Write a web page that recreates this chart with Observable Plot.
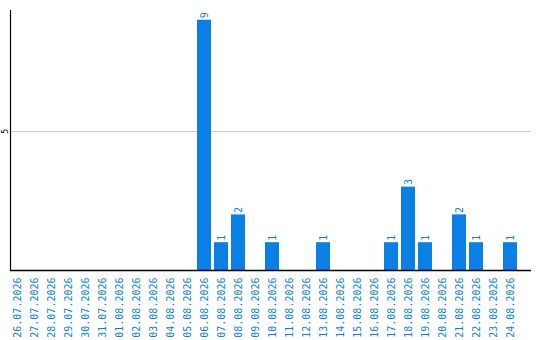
<!DOCTYPE html>
<html>
<head>
<meta charset="utf-8">
<script src="https://cdn.jsdelivr.net/npm/d3@7"></script>
<script src="https://cdn.jsdelivr.net/npm/@observablehq/plot@0.6"></script>
<style>
  html, body { margin: 0; padding: 0; background: #fff; }
  #chart svg { display: block; }
</style>
</head>
<body>
<div id="chart"></div>
<script>
// Daily counts, 26.07.2026 – 24.08.2026
const dates = [
  "26.07.2026", "27.07.2026", "28.07.2026", "29.07.2026", "30.07.2026",
  "31.07.2026", "01.08.2026", "02.08.2026", "03.08.2026", "04.08.2026",
  "05.08.2026", "06.08.2026", "07.08.2026", "08.08.2026", "09.08.2026",
  "10.08.2026", "11.08.2026", "12.08.2026", "13.08.2026", "14.08.2026",
  "15.08.2026", "16.08.2026", "17.08.2026", "18.08.2026", "19.08.2026",
  "20.08.2026", "21.08.2026", "22.08.2026", "23.08.2026", "24.08.2026"
];
const counts = [
  0, 0, 0, 0, 0,
  0, 0, 0, 0, 0,
  0, 9, 1, 2, 0,
  1, 0, 0, 1, 0,
  0, 0, 1, 3, 1,
  0, 2, 1, 0, 1
];
const yTicks = [5];

const blue = "#0a7fe6";
const rows = dates.map((date, i) => ({date, count: counts[i]}));

const chart = Plot.plot({
  width: 540,
  height: 340,
  marginTop: 10,
  marginLeft: 10,
  marginRight: 9,
  marginBottom: 70,
  style: {fontFamily: "DejaVu Sans Mono, monospace", background: "#fff"},
  x: {domain: dates, range: [8.5, 518.5], paddingInner: 3 / 17, paddingOuter: 3 / 34, axis: null},
  y: {domain: [0, 9.35], axis: null},
  marks: [
    Plot.ruleY(yTicks, {stroke: "#cccccc", strokeWidth: 1}),
    Plot.barY(rows, {x: "date", y: "count", fill: blue}),
    Plot.ruleY([0], {stroke: "#000", strokeWidth: 1.6}),
    Plot.frame({anchor: "left", stroke: "#000", strokeWidth: 1.2}),
    Plot.text(yTicks, {y: d => d, frameAnchor: "left", dx: -5, rotate: -90, textAnchor: "middle", fontSize: 8, fill: "#000"}),
    Plot.text(rows.filter(d => d.count > 0), {
      x: "date", y: "count", text: d => String(d.count),
      rotate: -90, textAnchor: "start", lineAnchor: "middle", dy: -2, fontSize: 10, fill: blue
    }),
    Plot.text(dates, {
      x: d => d, frameAnchor: "bottom", dy: 7, rotate: -90,
      textAnchor: "end", lineAnchor: "middle", fontSize: 10, fill: blue
    })
  ]
});
document.getElementById("chart").appendChild(chart);
</script>
</body>
</html>
